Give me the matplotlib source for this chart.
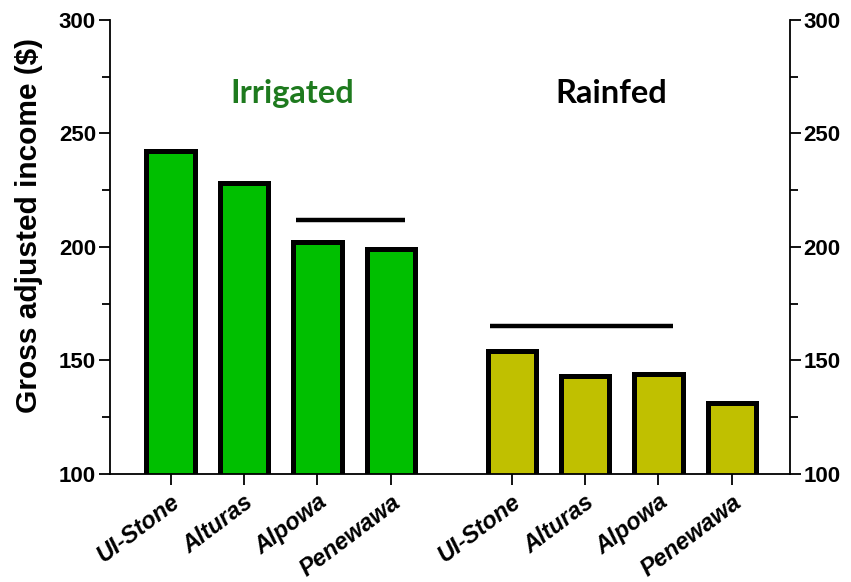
import matplotlib
matplotlib.use("Agg")
import matplotlib.pyplot as plt
from matplotlib.ticker import MultipleLocator

# Gross adjusted income by variety and water regime
varieties = ["UI-Stone", "Alturas", "Alpowa", "Penewawa"]
irrigated = [242, 228, 202, 199]
rainfed = [154, 143, 144, 131]

# Grouping bars (no significant difference) : (first variety, last variety, height)
irrigated_group = ("Alpowa", "Penewawa", 212)
rainfed_group = ("UI-Stone", "Alpowa", 165)

group_gap = 1.65
x_irr = [i for i in range(len(varieties))]
x_rain = [i + len(varieties) - 1 + group_gap for i in range(len(varieties))]

green = "#00bf00"
olive = "#c0c000"

fig = plt.figure(figsize=(8.51, 5.82), dpi=100)
ax = fig.add_axes([0.129, 0.186, 0.799, 0.78])

ax.bar(x_irr, irrigated, width=0.66, color=green, edgecolor="black", linewidth=3.6, zorder=2)
ax.bar(x_rain, rainfed, width=0.66, color=olive, edgecolor="black", linewidth=3.6, zorder=2)

def group_line(xs, grp):
    a = xs[varieties.index(grp[0])]
    b = xs[varieties.index(grp[1])]
    ax.hlines(grp[2], a - 0.29, b + 0.2, color="black", linewidth=3.2, zorder=3)

group_line(x_irr, irrigated_group)
group_line(x_rain, rainfed_group)

ax.set_ylim(100, 300)
ax.set_xlim(-0.83, x_rain[-1] + 0.79)

ax.spines["top"].set_visible(False)
for s in ["left", "right", "bottom"]:
    ax.spines[s].set_linewidth(1.3)

ax.yaxis.set_major_locator(MultipleLocator(50))
ax.yaxis.set_minor_locator(MultipleLocator(25))
ax.tick_params(axis="y", which="major", length=8, width=1.3, labelsize=16,
               left=True, right=True, labelleft=True, labelright=True, pad=2)
ax.tick_params(axis="y", which="minor", length=6, width=1.3, left=True, right=True)
ax.tick_params(axis="x", length=8, width=1.3, pad=4)
for lab in ax.get_yticklabels():
    lab.set_fontweight("bold")
    lab.set_family("Liberation Sans")

ax.set_xticks(x_irr + x_rain)
ax.set_xticklabels(varieties + varieties, rotation=37, ha="right", rotation_mode="anchor",
                   fontsize=17, fontweight="bold", fontstyle="italic", family="Liberation Sans")

ax.set_ylabel("Gross adjusted income ($)", fontsize=21.5, fontweight="bold",
              family="Liberation Sans")
ax.yaxis.set_label_coords(-0.098, 0.546)

ax.text(0.269, 0.838, "Irrigated", transform=ax.transAxes, ha="center", va="center",
        fontsize=23.5, fontweight="bold", color="#1e7a1e", family="Lato")
ax.text(0.738, 0.838, "Rainfed", transform=ax.transAxes, ha="center", va="center",
        fontsize=23.5, fontweight="bold", color="black", family="Lato")

fig.savefig("out.png", dpi=100)
